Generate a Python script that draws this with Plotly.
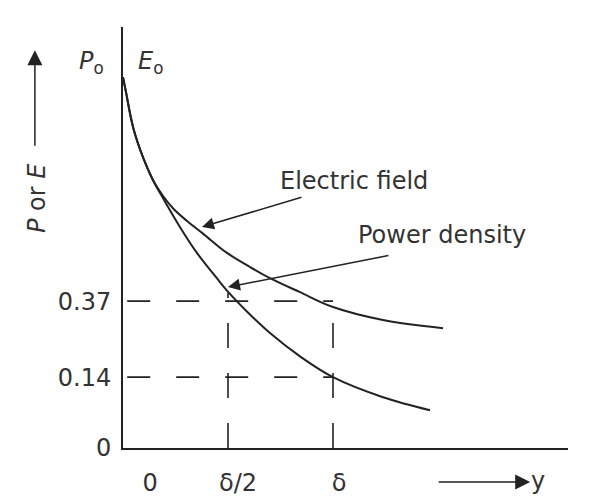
import plotly.graph_objects as go

# Horizontal position in units of skin depth delta; vertical: field / power relative to the surface value
y_pos_E = [0.0, 0.014, 0.048, 0.095, 0.143, 0.190, 0.240, 0.305, 0.381, 0.495, 0.605, 0.700, 0.843, 1.0, 1.238, 1.524]
E_rel = [1.0, 0.960, 0.865, 0.784, 0.722, 0.680, 0.645, 0.612, 0.578, 0.526, 0.488, 0.458, 0.420, 0.380, 0.345, 0.323]

y_pos_P = [0.0, 0.014, 0.048, 0.095, 0.143, 0.190, 0.271, 0.352, 0.448, 0.505, 0.590, 0.700, 0.843, 1.0, 1.238, 1.462]
P_rel = [1.0, 0.960, 0.865, 0.784, 0.722, 0.674, 0.596, 0.526, 0.457, 0.418, 0.368, 0.310, 0.247, 0.191, 0.137, 0.102]

# reference levels (schematic positions of 0.37 and 0.14) and depths (delta/2, delta)
level_pos = [0.396, 0.191]
depth_pos = [0.5, 1.0]
depth_top = [0.418, 0.396]

ytick_vals = [0.0, 0.191, 0.396]
ytick_text = ["0", "0.14", "0.37"]
xtick_vals = [0.129, 0.548, 1.029]
xtick_text = ["0", "δ/2", "δ"]

FONT = "DejaVu Sans"
INK = "#222222"
TXT = "#333333"

fig = go.Figure()

fig.add_trace(go.Scatter(x=y_pos_E, y=E_rel, mode="lines",
                         line=dict(color=INK, width=2, shape="spline", smoothing=1.0),
                         hoverinfo="skip", showlegend=False))
fig.add_trace(go.Scatter(x=y_pos_P, y=P_rel, mode="lines",
                         line=dict(color=INK, width=2, shape="spline", smoothing=1.0),
                         hoverinfo="skip", showlegend=False))

for lv in level_pos:
    fig.add_trace(go.Scatter(x=[0.02, depth_pos[1]], y=[lv, lv], mode="lines",
                             line=dict(color=INK, width=1.6, dash="23px,26px"),
                             hoverinfo="skip", showlegend=False))
for d, top in zip(depth_pos, depth_top):
    fig.add_trace(go.Scatter(x=[d, d], y=[0, top], mode="lines",
                             line=dict(color=INK, width=1.6, dash="25px,25px"),
                             hoverinfo="skip", showlegend=False))


def label(x, y, text, ref="paper", size=24, angle=0):
    return dict(x=x, y=y, xref=ref, yref=ref, text=text, showarrow=False, textangle=angle,
                xanchor="center", yanchor="middle", font=dict(family=FONT, size=size, color=TXT))


ann = []
# curve labels with arrows
ann.append(label(1.1, 0.72, "Electric field", ref="x"))
ann[-1]["yref"] = "y"
ann.append(dict(x=0.376, y=0.596, ax=0.857, ay=0.677, xref="x", yref="y", axref="x", ayref="y",
                text="", showarrow=True, arrowhead=2, arrowsize=1.6, arrowwidth=1.5, arrowcolor=INK))
ann.append(label(1.517, 0.575, "Power density", ref="x"))
ann[-1]["yref"] = "y"
ann.append(dict(x=0.5, y=0.434, ax=1.271, ay=0.520, xref="x", yref="y", axref="x", ayref="y",
                text="", showarrow=True, arrowhead=2, arrowsize=1.6, arrowwidth=1.5, arrowcolor=INK))
# surface values
ann.append(label(-0.0697, 0.9145, "<i>P</i><sub>o</sub>"))
ann.append(label(0.061, 0.9145, "<i>E</i><sub>o</sub>"))
# vertical axis title with arrow
ann.append(label(-0.193, 0.594, "<i>P</i> or <i>E</i>", angle=-90))
ann.append(dict(x=-0.198, y=0.945, ax=0, ay=97, xref="paper", yref="paper",
                text="", showarrow=True, arrowhead=2, arrowsize=2, arrowwidth=1.5, arrowcolor=INK))
# horizontal axis title with arrow
ann.append(dict(x=0.915, y=-0.0808, ax=-93, ay=0, xref="paper", yref="paper",
                text="", showarrow=True, arrowhead=2, arrowsize=2, arrowwidth=1.5, arrowcolor=INK))
ann.append(label(0.932, -0.078, "y"))

fig.update_layout(
    width=595, height=496,
    margin=dict(l=123, r=27, t=27, b=48, autoexpand=False),
    paper_bgcolor="white", plot_bgcolor="white",
    annotations=ann,
    xaxis=dict(range=[0, 2.119], showgrid=False, zeroline=False, showline=True,
               linecolor=INK, linewidth=2, tickvals=xtick_vals, ticktext=xtick_text,
               ticks="", ticklabelstandoff=12, automargin=False,
               tickfont=dict(family=FONT, size=24, color=TXT)),
    yaxis=dict(range=[0, 1.135], showgrid=False, zeroline=False, showline=True,
               linecolor=INK, linewidth=2, tickvals=ytick_vals, ticktext=ytick_text,
               ticks="", ticklabelstandoff=5, automargin=False,
               tickfont=dict(family=FONT, size=24, color=TXT)),
)

fig.write_html("out.html")
